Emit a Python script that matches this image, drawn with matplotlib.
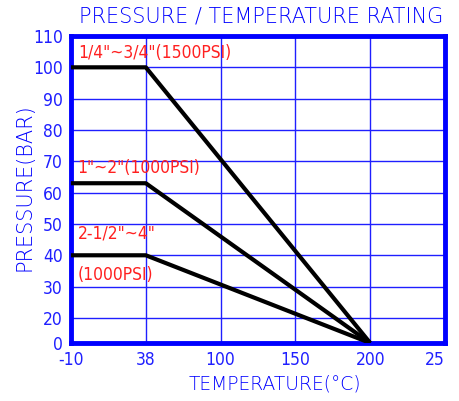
import numpy as np
import matplotlib
matplotlib.use('Agg')
import matplotlib.pyplot as plt

plt.rcParams['font.family'] = ['DejaVu Sans']

BLUE = '#1f1fff'
RED = '#ff2020'

# data
temps = [-10, 38, 200]
p_small = [100, 100, 0]
p_mid = [63, 63, 0]
p_large = [40, 40, 0]

xticks = [-10, 38, 100, 150, 200, 250]
xticklabels = ['-10', '38', '100', '150', '200', '25']
yticks = [0, 20, 30, 40, 50, 60, 70, 80, 90, 100, 110]

# drawing is not to scale: ticks are evenly spaced (0-20 is a short step)
x_pos = np.arange(len(xticks), dtype=float)
y_pos = np.array([0, 0.8, 1.8, 2.8, 3.8, 4.8, 5.8, 6.8, 7.8, 8.8, 9.8])

def fx(v):
    return np.interp(v, xticks, x_pos)

def fx_inv(v):
    return np.interp(v, x_pos, xticks)

def fy(v):
    return np.interp(v, yticks, y_pos)

def fy_inv(v):
    return np.interp(v, y_pos, yticks)

fig = plt.figure(figsize=(4.6, 4.01), dpi=100)
ax = fig.add_axes([71/460, 1-343/401, 374/460, 307/401])
ax.set_xscale('function', functions=(fx, fx_inv))
ax.set_yscale('function', functions=(fy, fy_inv))
ax.set_xlim(-10, 250)
ax.set_ylim(0, 110)

ax.set_xticks(xticks)
ax.set_xticklabels(xticklabels)
ax.set_yticks(yticks)
ax.tick_params(length=0, colors=BLUE, labelsize=12.5)
ax.tick_params(axis='x', pad=6)
ax.tick_params(axis='y', pad=6)
for t in ax.get_xticklabels() + ax.get_yticklabels():
    t.set_fontstretch('condensed')
ax.get_xticklabels()[-1].set_ha('right')
ax.grid(True, color=BLUE, lw=1.0)
for s in ax.spines.values():
    s.set_color('#0000ff')
    s.set_linewidth(3.5)

for p in (p_small, p_mid, p_large):
    ax.plot(temps, p, color='black', lw=3, solid_capstyle='butt', zorder=3)

lbl = dict(color=RED, fontsize=12.5, fontstretch='condensed', va='center', ha='left')
fig.text(78/460, 1-53/401, '1/4"~3/4"(1500PSI)', **lbl)
fig.text(77/460, 1-168/401, '1"~2"(1000PSI)', **lbl)
fig.text(78/460, 1-233/401, '2-1/2"~4"', **lbl)
fig.text(78/460, 1-275/401, '(1000PSI)', **lbl)

fig.text(261/460, 1-16/401, 'PRESSURE / TEMPERATURE RATING', color='#0000ff',
         fontsize=15, fontweight=200, ha='center', va='center')
fig.text(275/460, 1-384/401, 'TEMPERATURE(°C)', color='#0000ff',
         fontsize=13.5, fontweight=200, ha='center', va='center')
fig.text(25/460, 1-187/401, 'PRESSURE(BAR)', color='#0000ff', rotation=90,
         fontsize=15, fontweight=200, ha='center', va='center')

fig.savefig('out.png', dpi=100)
